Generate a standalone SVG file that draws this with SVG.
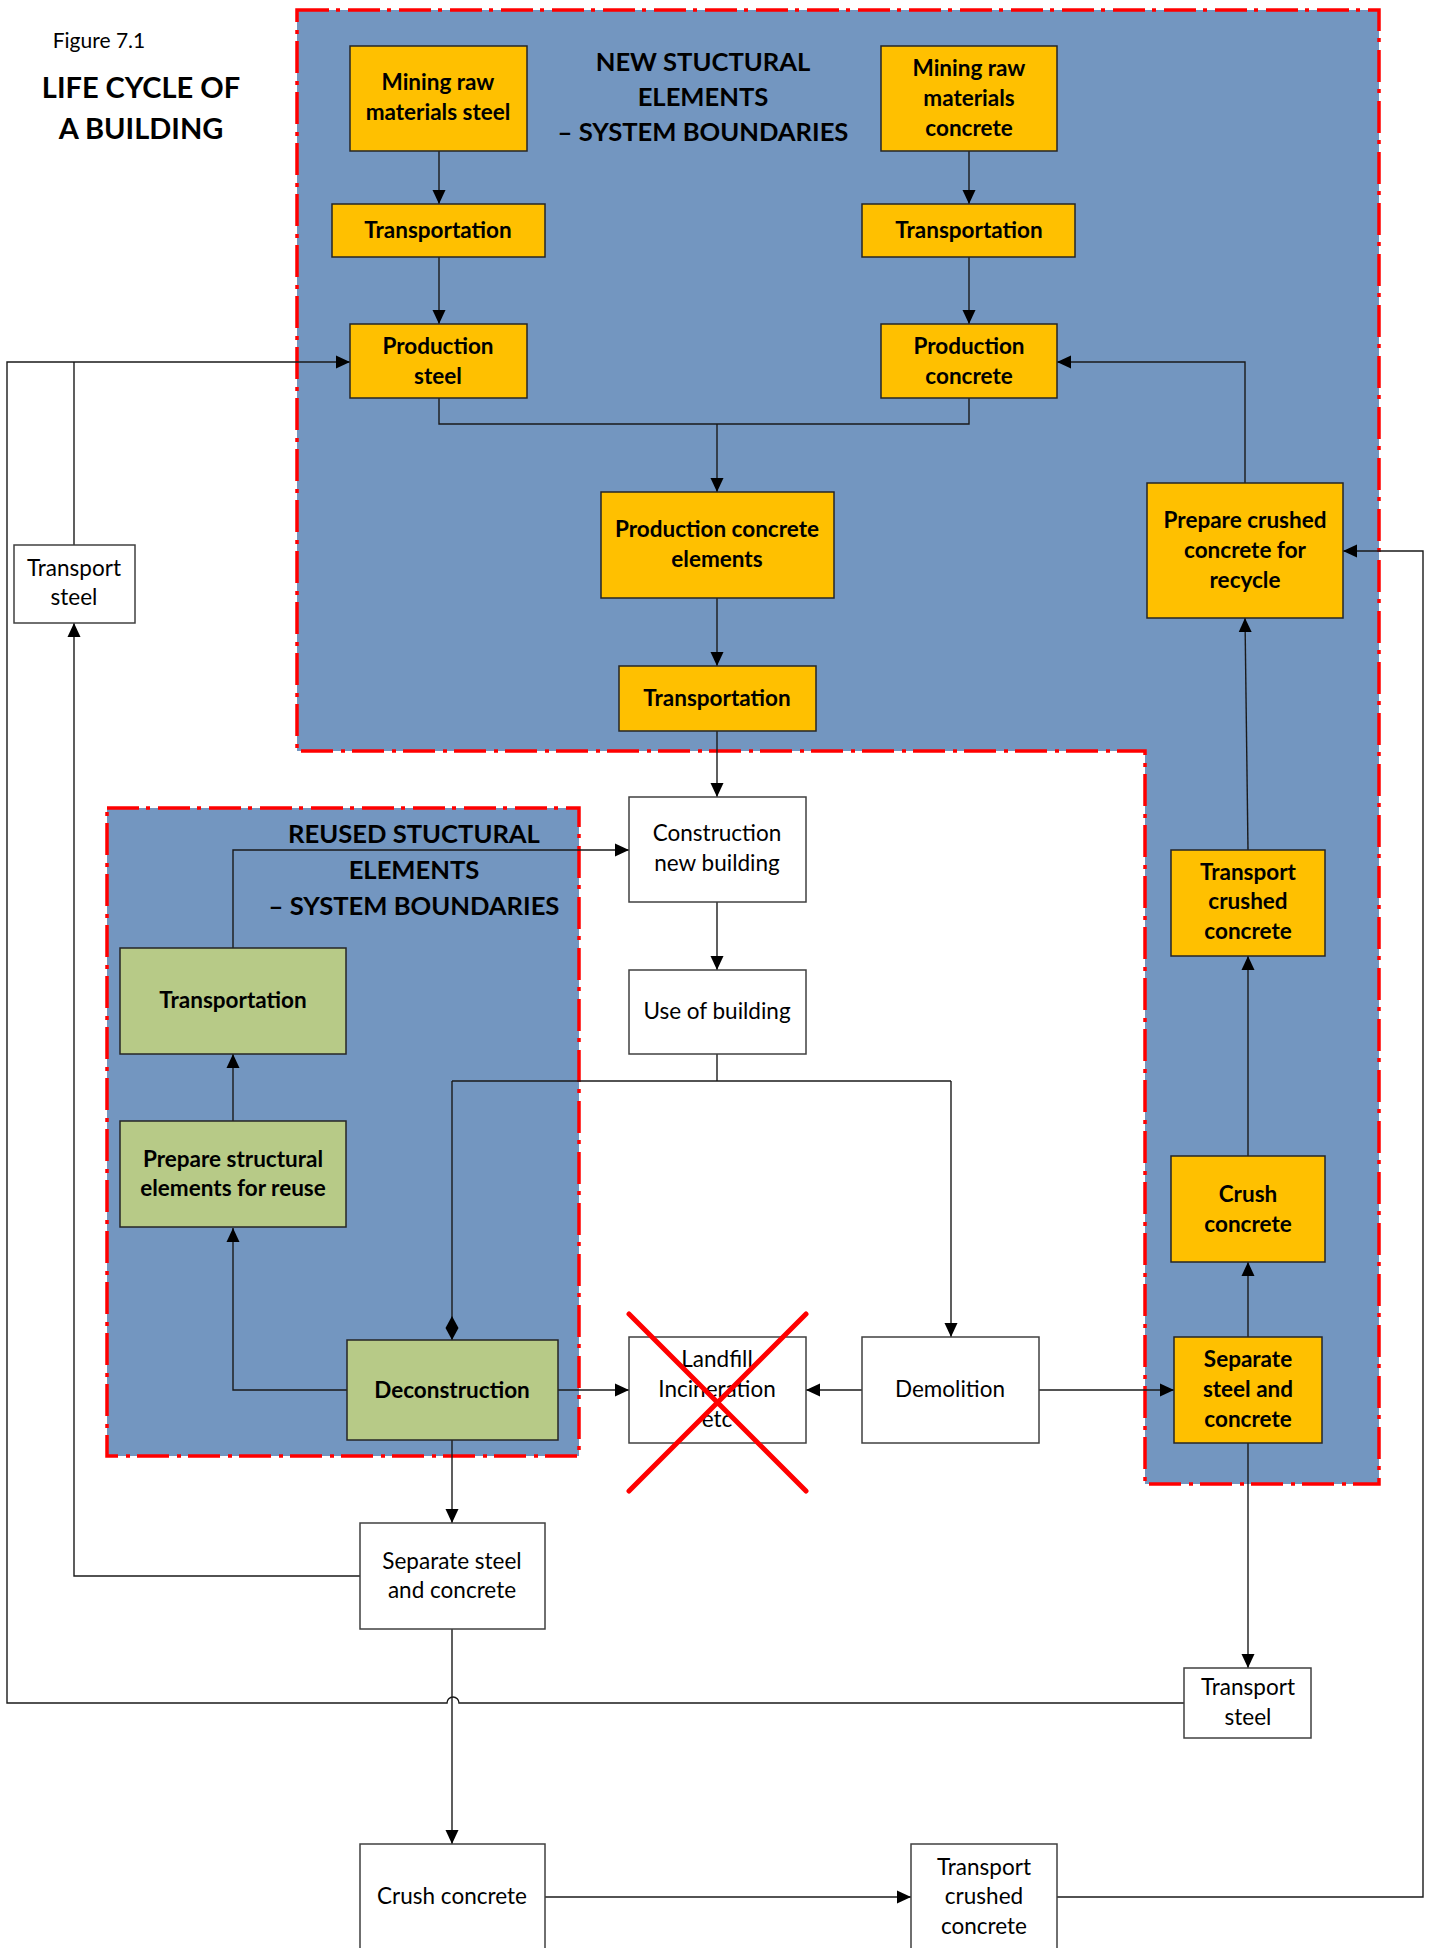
<svg xmlns="http://www.w3.org/2000/svg" width="1434" height="1948" viewBox="0 0 1434 1948">
<style>
text{font-family:Lato,"Liberation Sans",sans-serif;fill:#000;text-anchor:middle;dominant-baseline:central;transform:translateY(-2px)}
.b{font-weight:bold;font-size:22.5px}
.r{font-size:22.5px}
.t{font-weight:bold;font-size:25.6px}
.or{fill:#FFC000;stroke:#262626;stroke-width:1.5}
.gr{fill:#B7CA87;stroke:#262626;stroke-width:1.5}
.wh{fill:#fff;stroke:#404040;stroke-width:1.5}
.bd{fill:#7396C0;stroke:#FF0000;stroke-width:3.5;stroke-dasharray:32 7 4 8}
.c{fill:none;stroke:#1a1a1a;stroke-width:1.4}
.a{marker-end:url(#ar)}
</style>
<defs>
<marker id="ar" markerUnits="userSpaceOnUse" markerWidth="14" markerHeight="14" viewBox="0 0 14 14" refX="14" refY="7" orient="auto"><path d="M0,0.5 L14,7 L0,13.5 z" fill="#000"/></marker>
<marker id="dm" markerUnits="userSpaceOnUse" markerWidth="24" markerHeight="14" viewBox="0 0 24 14" refX="24" refY="7" orient="auto"><path d="M0,7 L12,0.5 L24,7 L12,13.5 z" fill="#000"/></marker>
</defs>
<rect width="1434" height="1948" fill="#fff"/>

<g id="boundaries">
<path class="bd" d="M297,10 H1379 V1484 H1145 V751 H297 Z"/>
<rect class="bd" x="107" y="808" width="472" height="648"/>
</g>

<g id="titles">
<text x="99" y="41" style="font-size:21px">Figure 7.1</text>
<text x="141" y="88" style="font-weight:bold;font-size:29px">LIFE CYCLE OF</text>
<text x="141" y="129" style="font-weight:bold;font-size:29px">A BUILDING</text>
<text class="t" x="703" y="63">NEW STUCTURAL</text>
<text class="t" x="703" y="98">ELEMENTS</text>
<text class="t" x="703" y="133">– SYSTEM BOUNDARIES</text>
<text class="t" x="414" y="835">REUSED STUCTURAL</text>
<text class="t" x="414" y="871">ELEMENTS</text>
<text class="t" x="414" y="907">– SYSTEM BOUNDARIES</text>
</g>

<g id="connectors">
<path class="c a" d="M439,151 V204"/>
<path class="c a" d="M439,257 V324"/>
<path class="c a" d="M969,151 V204"/>
<path class="c a" d="M969,257 V324"/>
<path class="c" d="M439,398 V424 H969 V398"/>
<path class="c a" d="M717,424 V492"/>
<path class="c a" d="M717,598 V666"/>
<path class="c a" d="M717,731 V797"/>
<path class="c a" d="M717,902 V970"/>
<path class="c" d="M717,1054 V1081"/>
<path class="c" d="M452,1081 H951"/>
<path class="c" d="M452,1081 V1340" marker-end="url(#dm)"/>
<path class="c a" d="M951,1081 V1337"/>
<path class="c a" d="M558,1390 H629"/>
<path class="c a" d="M862,1390 H806"/>
<path class="c a" d="M1039,1390 H1174"/>
<path class="c a" d="M347,1390 H233 V1228"/>
<path class="c a" d="M233,1121 V1054"/>
<path class="c a" d="M233,948 V850 H629"/>
<path class="c a" d="M452,1440 V1523"/>
<path class="c a" d="M452,1629 V1844"/>
<path class="c a" d="M361,1576 H74 V623"/>
<path class="c" d="M74,545 V362"/>
<path class="c a" d="M1184,1703 H459 A6,6 0 0 0 447,1703 H7 V362 H350"/>
<path class="c a" d="M1248,1443 V1668"/>
<path class="c a" d="M544,1897 H911"/>
<path class="c a" d="M1057,1897 H1423 V551 H1343"/>
<path class="c a" d="M1248,1337 V1262"/>
<path class="c a" d="M1248,1156 V956"/>
<path class="c a" d="M1248,850 L1245,618"/>
<path class="c a" d="M1245,483 V362 H1057"/>
</g>

<g id="n-mining-steel"><rect class="or" x="350" y="46" width="177" height="105"/><text class="b" x="438" y="83">Mining raw</text><text class="b" x="438" y="113">materials steel</text></g>
<g id="n-transport-steel-new"><rect class="or" x="332" y="204" width="213" height="53"/><text class="b" x="438" y="231">Transportation</text></g>
<g id="n-production-steel"><rect class="or" x="350" y="324" width="177" height="74"/><text class="b" x="438" y="347">Production</text><text class="b" x="438" y="377">steel</text></g>
<g id="n-mining-concrete"><rect class="or" x="881" y="46" width="176" height="105"/><text class="b" x="969" y="69">Mining raw</text><text class="b" x="969" y="99">materials</text><text class="b" x="969" y="129">concrete</text></g>
<g id="n-transport-concrete-new"><rect class="or" x="862" y="204" width="213" height="53"/><text class="b" x="969" y="231">Transportation</text></g>
<g id="n-production-concrete"><rect class="or" x="881" y="324" width="176" height="74"/><text class="b" x="969" y="347">Production</text><text class="b" x="969" y="377">concrete</text></g>
<g id="n-production-elements"><rect class="or" x="601" y="492" width="233" height="106"/><text class="b" x="717" y="530">Production concrete</text><text class="b" x="717" y="560">elements</text></g>
<g id="n-transport-elements"><rect class="or" x="619" y="666" width="197" height="65"/><text class="b" x="717" y="699">Transportation</text></g>
<g id="n-prepare-crushed"><rect class="or" x="1147" y="483" width="196" height="135"/><text class="b" x="1245" y="521">Prepare crushed</text><text class="b" x="1245" y="551">concrete for</text><text class="b" x="1245" y="581">recycle</text></g>
<g id="n-transport-crushed-orange"><rect class="or" x="1171" y="850" width="154" height="106"/><text class="b" x="1248" y="873">Transport</text><text class="b" x="1248" y="902">crushed</text><text class="b" x="1248" y="932">concrete</text></g>
<g id="n-crush-orange"><rect class="or" x="1171" y="1156" width="154" height="106"/><text class="b" x="1248" y="1195">Crush</text><text class="b" x="1248" y="1225">concrete</text></g>
<g id="n-separate-orange"><rect class="or" x="1174" y="1337" width="148" height="106"/><text class="b" x="1248" y="1360">Separate</text><text class="b" x="1248" y="1390">steel and</text><text class="b" x="1248" y="1420">concrete</text></g>

<g id="n-construction"><rect class="wh" x="629" y="797" width="177" height="105"/><text class="r" x="717" y="834">Construction</text><text class="r" x="717" y="864">new building</text></g>
<g id="n-use"><rect class="wh" x="629" y="970" width="177" height="84"/><text class="r" x="717" y="1012">Use of building</text></g>
<g id="n-landfill"><rect class="wh" x="629" y="1337" width="177" height="106"/><text class="r" x="717" y="1360">Landfill</text><text class="r" x="717" y="1390">Incineration</text><text class="r" x="717" y="1420">etc</text>
<path d="M629,1314 L806,1491 M806,1314 L629,1491" stroke="#FF0000" stroke-width="5" stroke-linecap="round" fill="none"/></g>
<g id="n-demolition"><rect class="wh" x="862" y="1337" width="177" height="106"/><text class="r" x="950" y="1390">Demolition</text></g>

<g id="n-transport-reuse"><rect class="gr" x="120" y="948" width="226" height="106"/><text class="b" x="233" y="1001">Transportation</text></g>
<g id="n-prepare-reuse"><rect class="gr" x="120" y="1121" width="226" height="106"/><text class="b" x="233" y="1160">Prepare structural</text><text class="b" x="233" y="1189">elements for reuse</text></g>
<g id="n-deconstruction"><rect class="gr" x="347" y="1340" width="211" height="100"/><text class="b" x="452" y="1391">Deconstruction</text></g>

<g id="n-separate-white"><rect class="wh" x="360" y="1523" width="185" height="106"/><text class="r" x="452" y="1562">Separate steel</text><text class="r" x="452" y="1591">and concrete</text></g>
<g id="n-transport-steel-left"><rect class="wh" x="14" y="545" width="121" height="78"/><text class="r" x="74" y="569">Transport</text><text class="r" x="74" y="598">steel</text></g>
<g id="n-transport-steel-right"><rect class="wh" x="1184" y="1668" width="127" height="70"/><text class="r" x="1248" y="1688">Transport</text><text class="r" x="1248" y="1718">steel</text></g>
<g id="n-crush-white"><rect class="wh" x="360" y="1844" width="185" height="110"/><text class="r" x="452" y="1897">Crush concrete</text></g>
<g id="n-transport-crushed-white"><rect class="wh" x="911" y="1844" width="146" height="110"/><text class="r" x="984" y="1868">Transport</text><text class="r" x="984" y="1897">crushed</text><text class="r" x="984" y="1927">concrete</text></g>
</svg>
